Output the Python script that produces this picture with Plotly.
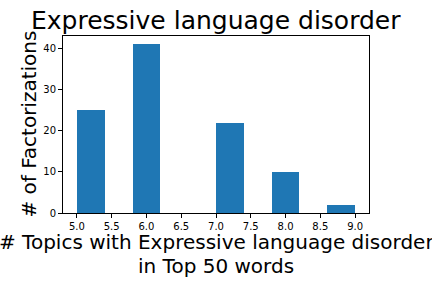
import numpy as np
import plotly.graph_objects as go

# Data: number of topics containing the term, and how many factorizations had that count
topic_counts = [5, 6, 7, 8, 9]
factorizations = [25, 41, 22, 10, 2]

title_text = "Expressive language disorder"
xlabel_lines = ["# Topics with Expressive language disorder", "in Top 50 words"]
ylabel_text = "# of Factorizations"

# Histogram with 10 bins (as matplotlib's default)
counts, edges = np.histogram(topic_counts, bins=10, weights=factorizations)
widths = np.diff(edges)

fig = go.Figure(
    go.Bar(
        x=edges[:-1],
        y=counts,
        width=widths,
        offset=0,
        marker=dict(color="#1f77b4", line=dict(width=0)),
        hoverinfo="skip",
    )
)

font_family = "DejaVu Sans"
ymax = max(counts) * 1.05
xpad = (edges[-1] - edges[0]) * 0.05

fig.update_layout(
    width=432,
    height=288,
    margin=dict(l=63, r=63, t=36, b=75),
    paper_bgcolor="white",
    plot_bgcolor="white",
    showlegend=False,
    font=dict(family=font_family, color="black"),
    bargap=0,
    annotations=[
        dict(text=title_text, x=0.5, y=1.0876, xref="paper", yref="paper",
             xanchor="center", yanchor="middle", showarrow=False,
             font=dict(size=25, family=font_family, color="black")),
        dict(text=xlabel_lines[0], x=0.5, y=-0.163, xref="paper", yref="paper",
             xanchor="center", yanchor="middle", showarrow=False,
             font=dict(size=20, family=font_family, color="black")),
        dict(text=xlabel_lines[1], x=0.5, y=-0.299, xref="paper", yref="paper",
             xanchor="center", yanchor="middle", showarrow=False,
             font=dict(size=20, family=font_family, color="black")),
        dict(text=ylabel_text, x=-0.114, y=0.5, xref="paper", yref="paper",
             xanchor="center", yanchor="middle", textangle=-90, showarrow=False,
             font=dict(size=20, family=font_family, color="black")),
    ],
)

fig.update_xaxes(
    range=[edges[0] - xpad, edges[-1] + xpad],
    dtick=0.5, tick0=5.0, tickformat=".1f",
    showline=True, linecolor="black", linewidth=1, mirror=True,
    ticks="outside", ticklen=4, tickcolor="black",
    showgrid=False, zeroline=False,
    tickfont=dict(size=10, family=font_family, color="black"),
)
fig.update_yaxes(
    range=[0, ymax],
    dtick=10, tick0=0,
    showline=True, linecolor="black", linewidth=1, mirror=True,
    ticks="outside", ticklen=4, tickcolor="black",
    showgrid=False, zeroline=False,
    tickfont=dict(size=10, family=font_family, color="black"),
)

fig.write_html(
    "out.html",
    config={"displayModeBar": False},
    post_script="document.body.style.margin='0';document.body.style.overflow='hidden';",
)
